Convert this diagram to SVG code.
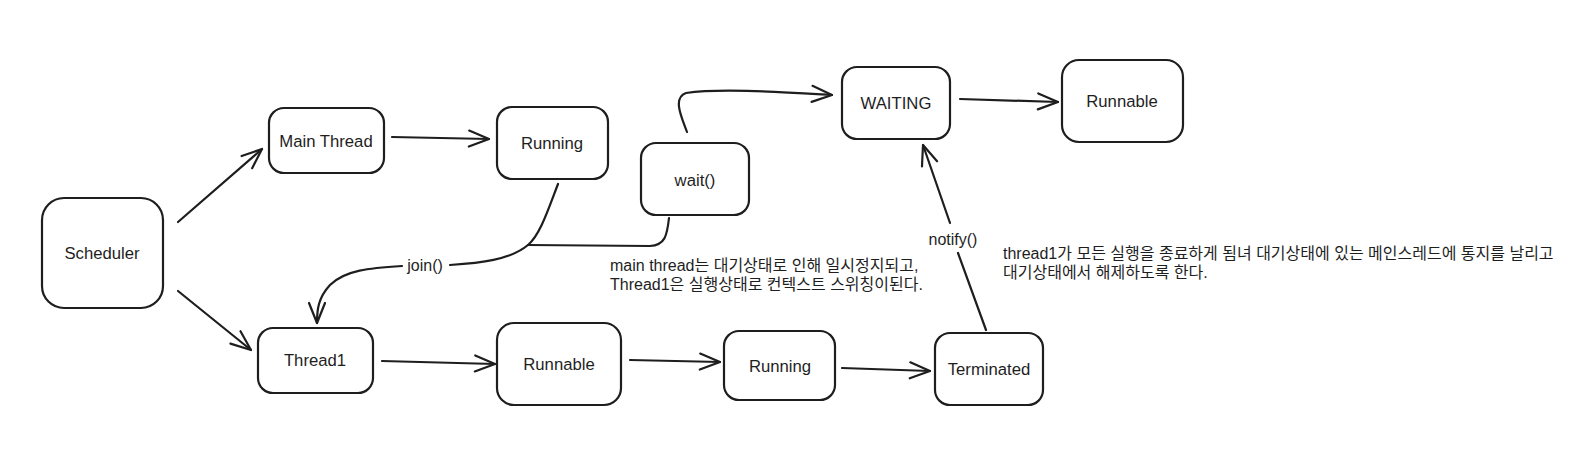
<svg xmlns="http://www.w3.org/2000/svg" width="1581" height="469" viewBox="0 0 1581 469">
<style>
.box{fill:#fff;stroke:#1e1e1e;stroke-width:2.2}
.lbl{font-family:"Liberation Sans",Arial,sans-serif;font-size:16.7px;fill:#1e1e1e;text-anchor:middle;dominant-baseline:central}
.edge{fill:none;stroke:#1e1e1e;stroke-width:2.2;stroke-linecap:round;stroke-linejoin:round}
.elbl{font-family:"Liberation Sans",Arial,sans-serif;font-size:16px;fill:#1e1e1e;text-anchor:middle;dominant-baseline:central}
.note{font-family:"Liberation Sans","Noto Sans CJK KR",sans-serif;font-size:16px;fill:#1e1e1e}
</style>
<defs>
<marker id="arr" viewBox="-22 -11 24 22" refX="0" refY="0" markerWidth="24" markerHeight="22" markerUnits="userSpaceOnUse" orient="auto">
<path d="M-20,-8 L0,0 L-20,8" fill="none" stroke="#1e1e1e" stroke-width="2.2" stroke-linecap="round" stroke-linejoin="round"/>
</marker>
</defs>
<rect width="1581" height="469" fill="#fff"/>
<g id="connectors">
<path class="edge" d="M178,222 L262,149" marker-end="url(#arr)"/>
<path class="edge" d="M178,291 L251,350" marker-end="url(#arr)"/>
<path class="edge" d="M392,137 L489,139" marker-end="url(#arr)"/>
<path class="edge" d="M687,132 C682,118 672,98 686,93 C720,88 780,92 832,95" marker-end="url(#arr)"/>
<path class="edge" d="M960,99 L1058,102" marker-end="url(#arr)"/>
<path class="edge" d="M382,361 L495,364" marker-end="url(#arr)"/>
<path class="edge" d="M630,360 L720,362" marker-end="url(#arr)"/>
<path class="edge" d="M842,368 L930,371" marker-end="url(#arr)"/>
<path class="edge" d="M558,184 C548,210 540,235 528,245 C510,260 480,263 450,265"/>
<path class="edge" d="M669,218 C667,236 665,245 650,246 L528,245"/>
<path class="edge" d="M402,266 C370,268 345,270 330,285 C318,298 317,310 317,323" marker-end="url(#arr)"/>
<text class="elbl" x="425" y="265">join()</text>
<path class="edge" d="M986,330 L958,253"/>
<path class="edge" d="M950,223 L923,145" marker-end="url(#arr)"/>
<text class="elbl" x="953" y="239">notify()</text>
</g>
<g id="scheduler"><rect class="box" x="42" y="198" width="121" height="110" rx="22"/><text class="lbl" x="102" y="253">Scheduler</text></g>
<g id="main-thread"><rect class="box" x="269" y="108" width="115" height="65" rx="15"/><text class="lbl" x="326" y="141">Main Thread</text></g>
<g id="running-main"><rect class="box" x="497" y="107" width="111" height="72" rx="15"/><text class="lbl" x="552" y="143">Running</text></g>
<g id="wait"><rect class="box" x="641" y="143" width="108" height="72" rx="15"/><text class="lbl" x="695" y="180">wait()</text></g>
<g id="waiting"><rect class="box" x="842" y="67" width="108" height="72" rx="15"/><text class="lbl" x="896" y="103">WAITING</text></g>
<g id="runnable-main"><rect class="box" x="1062" y="60" width="121" height="82" rx="17"/><text class="lbl" x="1122" y="101">Runnable</text></g>
<g id="thread1"><rect class="box" x="258" y="328" width="115" height="65" rx="15"/><text class="lbl" x="315" y="360">Thread1</text></g>
<g id="runnable-t1"><rect class="box" x="497" y="323" width="124" height="82" rx="17"/><text class="lbl" x="559" y="364">Runnable</text></g>
<g id="running-t1"><rect class="box" x="724" y="331" width="111" height="69" rx="15"/><text class="lbl" x="780" y="366">Running</text></g>
<g id="terminated"><rect class="box" x="935" y="333" width="108" height="72" rx="15"/><text class="lbl" x="989" y="369">Terminated</text></g>
<g id="notes">
<text class="note" x="610" y="271">main thread는 대기상태로 인해 일시정지되고,</text>
<text class="note" x="610" y="290">Thread1은 실행상태로 컨텍스트 스위칭이된다.</text>
<text class="note" x="1003" y="259">thread1가 모든 실행을 종료하게 됨녀 대기상태에 있는 메인스레드에 통지를 날리고</text>
<text class="note" x="1003" y="278">대기상태에서 해제하도록 한다.</text>
</g>
</svg>
